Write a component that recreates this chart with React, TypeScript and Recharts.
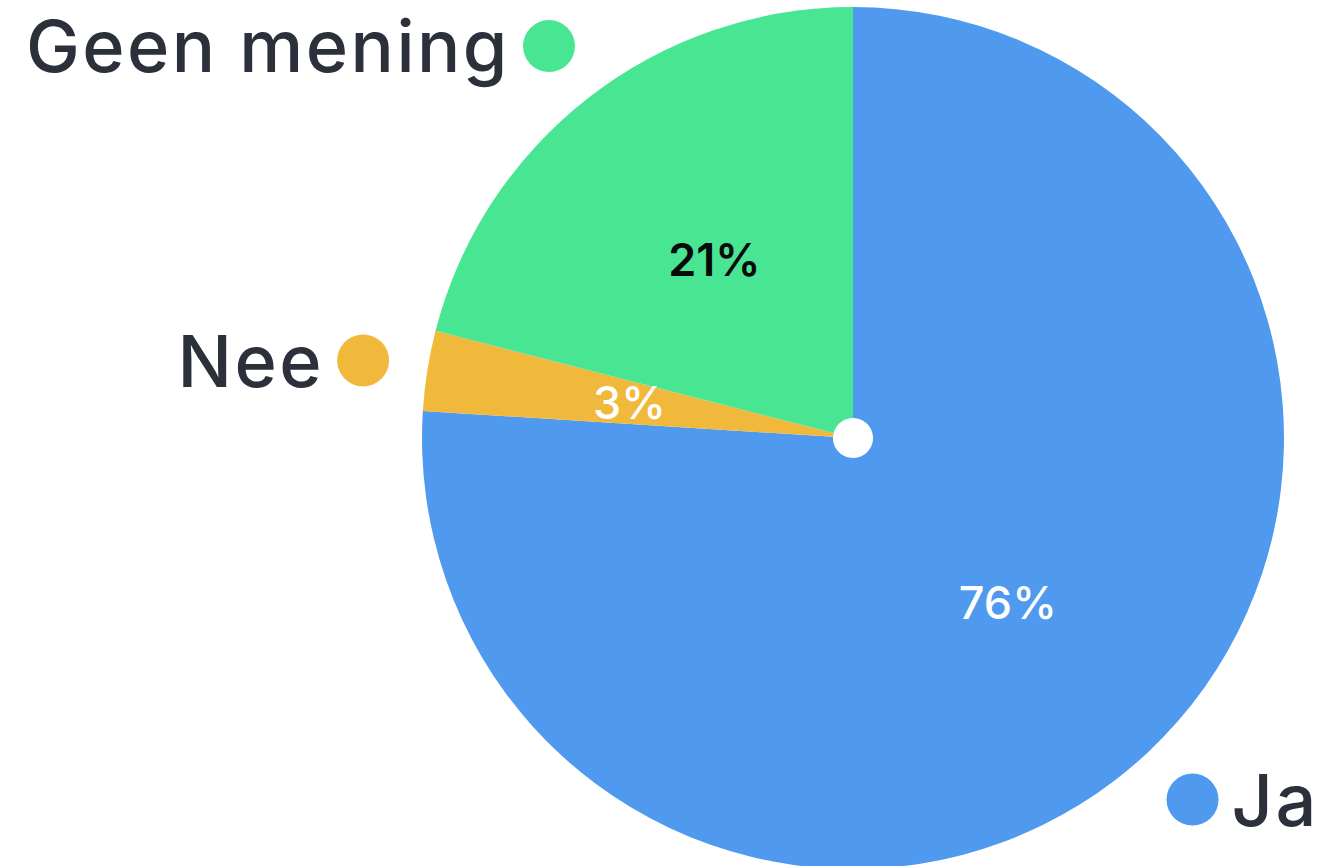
import React from 'react';
import { PieChart, Pie, Cell } from 'recharts';

const categories = ['Ja', 'Nee', 'Geen mening'];
const values = [76, 3, 21];

const COLORS = ['#4f99ee', '#f1b93c', '#48e592'];
const PCT_COLORS = ['#ffffff', '#ffffff', '#0a0a0a'];
const TEXT_COLOR = '#2b303a';
const FONT = 'Inter, "Noto Sans", sans-serif';

const data = categories.map((name, i) => ({ name, value: values[i] }));
const centerDot = [{ name: 'center', value: 1 }];

const RAD = Math.PI / 180;

const renderLabel = (props: any) => {
  const { cx, cy, midAngle, outerRadius, index, value, name } = props;
  const cos = Math.cos(-midAngle * RAD);
  const sin = Math.sin(-midAngle * RAD);
  const pr = outerRadius * 0.525;
  const px = cx + pr * cos;
  const py = cy + pr * sin;
  const lr = outerRadius + 65;
  const lx = cx + lr * cos;
  const ly = cy + lr * sin;
  const right = cos >= 0;
  const nameSize = 72;
  const pctSize = 45;
  return (
    <g>
      <text
        x={px}
        y={py + pctSize * 0.727 / 2}
        textAnchor="middle"
        fill={PCT_COLORS[index]}
        fontFamily={FONT}
        fontSize={pctSize}
        fontWeight={index === 2 ? 600 : 500}
      >
        {value}%
      </text>
      <circle cx={lx} cy={ly} r={26} fill={COLORS[index]} />
      <text
        x={right ? lx + 39 : lx - 39}
        y={ly + nameSize * 0.727 / 2}
        textAnchor={right ? 'start' : 'end'}
        fill={TEXT_COLOR}
        fontFamily={FONT}
        fontSize={nameSize}
        fontWeight={500}
        letterSpacing={2.5}
      >
        {name}
      </text>
    </g>
  );
};

export default function App() {
  return (
    <div style={{ position: 'absolute', left: 0, top: 0, width: 1332, height: 866, background: '#ffffff', overflow: 'hidden' }}>
      <PieChart width={1332} height={866} margin={{ top: 0, right: 0, bottom: 0, left: 0 }}>
        <Pie
          data={data}
          dataKey="value"
          nameKey="name"
          cx={853}
          cy={438}
          outerRadius={431}
          startAngle={90}
          endAngle={-270}
          stroke="none"
          label={renderLabel}
          labelLine={false}
          isAnimationActive={false}
        >
          {data.map((d, i) => (
            <Cell key={d.name} fill={COLORS[i]} />
          ))}
        </Pie>
        <Pie
          data={centerDot}
          dataKey="value"
          cx={853}
          cy={438}
          outerRadius={20}
          fill="#ffffff"
          stroke="none"
          isAnimationActive={false}
        />
      </PieChart>
    </div>
  );
}
